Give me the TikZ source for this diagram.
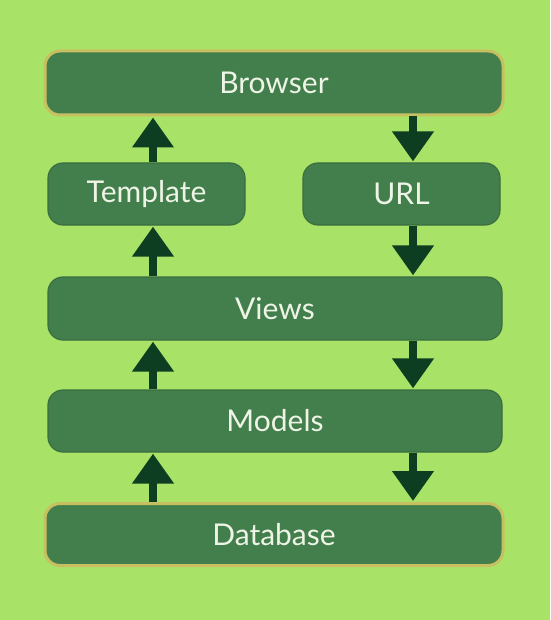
\documentclass[tikz,border=0pt]{standalone}
\usepackage{fontspec}
\setmainfont{Lato}
\usetikzlibrary{arrows.meta}
\definecolor{bg}{HTML}{A8E266}
\definecolor{boxfill}{HTML}{437F4C}
\definecolor{boxedge}{HTML}{3A6E40}
\definecolor{gold}{HTML}{C8C060}
\definecolor{arrowcol}{HTML}{0E3E22}
\definecolor{txt}{HTML}{EEF4E6}
\tikzset{
  layer/.style={rectangle, rounded corners=15pt, fill=boxfill, draw=boxedge, line width=1.2pt,
    inner sep=0pt, text=txt, font=\fontsize{30}{33}\selectfont},
  endlayer/.style={layer, draw=gold, line width=3pt},
  flow/.style={draw=arrowcol, line width=8pt, -{Triangle[width=40pt,length=30pt]}, shorten >=1pt},
}
\begin{document}
\begin{tikzpicture}[x=1pt,y=-1pt]
\fill[bg] (0,0) rectangle (550,620);
\useasboundingbox (0,0) rectangle (550,620);
\node[endlayer, minimum width=458pt, minimum height=64pt] (browser) at (274,83) {Browser};
\node[layer, minimum width=197pt, minimum height=62pt] (template) at (146.5,194) {Template};
\node[layer, minimum width=197pt, minimum height=62pt] (url) at (401.5,194) {URL};
\node[layer, minimum width=454pt, minimum height=63pt] (views) at (275,308.5) {Views};
\node[layer, minimum width=454pt, minimum height=62pt] (models) at (275,421) {Models};
\node[endlayer, minimum width=458pt, minimum height=62pt] (database) at (274,534.5) {Database};
\coordinate (lx) at (153,0);
\coordinate (rx) at (413,0);
\draw[flow] (template.north -| lx) -- (browser.south -| lx);
\draw[flow] (views.north -| lx) -- (template.south -| lx);
\draw[flow] (models.north -| lx) -- (views.south -| lx);
\draw[flow] (database.north -| lx) -- (models.south -| lx);
\draw[flow] (browser.south -| rx) -- (url.north -| rx);
\draw[flow] (url.south -| rx) -- (views.north -| rx);
\draw[flow] (views.south -| rx) -- (models.north -| rx);
\draw[flow] (models.south -| rx) -- (database.north -| rx);
\end{tikzpicture}
\end{document}
